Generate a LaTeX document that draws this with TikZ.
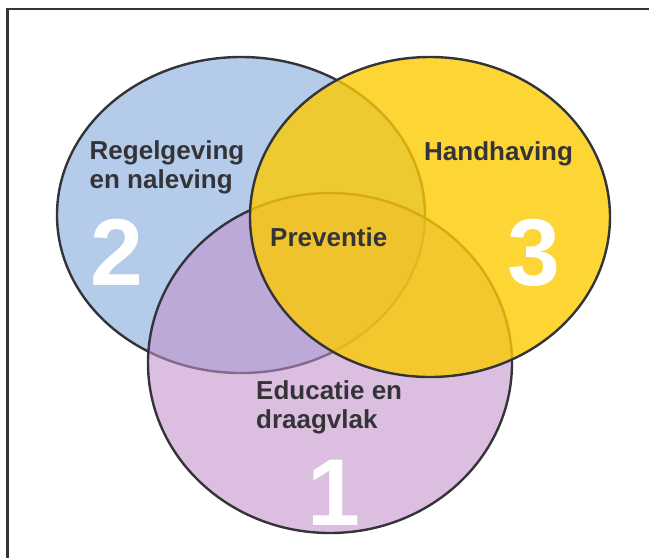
\documentclass[tikz,border=0pt]{standalone}
\usepackage{fontspec}
\setmainfont{Liberation Sans}
\definecolor{blauw}{RGB}{180,203,234}
\definecolor{paars}{RGB}{195,145,202}
\definecolor{geel}{RGB}{252,202,3}
\definecolor{donker}{RGB}{52,52,56}
\tikzset{
  rand/.style={line width=2.4pt, draw=donker},
  tekst/.style={font=\bfseries\fontsize{26}{29}\selectfont, text=donker, align=left, inner sep=0pt, anchor=base west},
  cijfer/.style={font=\bfseries\fontsize{95}{95}\selectfont, text=white, inner sep=0pt, anchor=base west}
}
\begin{document}
\begin{tikzpicture}[x=1pt, y=-1pt]

    \useasboundingbox (0,0) rectangle (649,558);

    % Kader
    \draw[line width=2.2pt, donker] (7.5,558) -- (7.5,9) -- (649,9);

    % Cirkels
    \filldraw[fill=blauw, rand] (241,215) ellipse [x radius=184, y radius=158];
    \filldraw[fill=paars, fill opacity=0.58, rand] (330,363) ellipse [x radius=182, y radius=170];
    \filldraw[fill=geel, fill opacity=0.8, rand] (430,217) ellipse [x radius=180, y radius=160];

    % Labels (base = laatste regel)
    \node[tekst] (regel) at (89.5,188) {Regelgeving\\en naleving};
    \node[tekst] (hand) at (424,160) {Handhaving};
    \node[tekst] (prev) at (270,246) {Preventie};
    \node[tekst] (educ) at (256,428) {Educatie en\\draagvlak};

    % Nummers
    \node[cijfer] (nr2) at (90,285) {2};
    \node[cijfer] (nr3) at (507,285) {3};
    \node[cijfer] (nr1) at (307,525) {1};

\end{tikzpicture}
\end{document}
